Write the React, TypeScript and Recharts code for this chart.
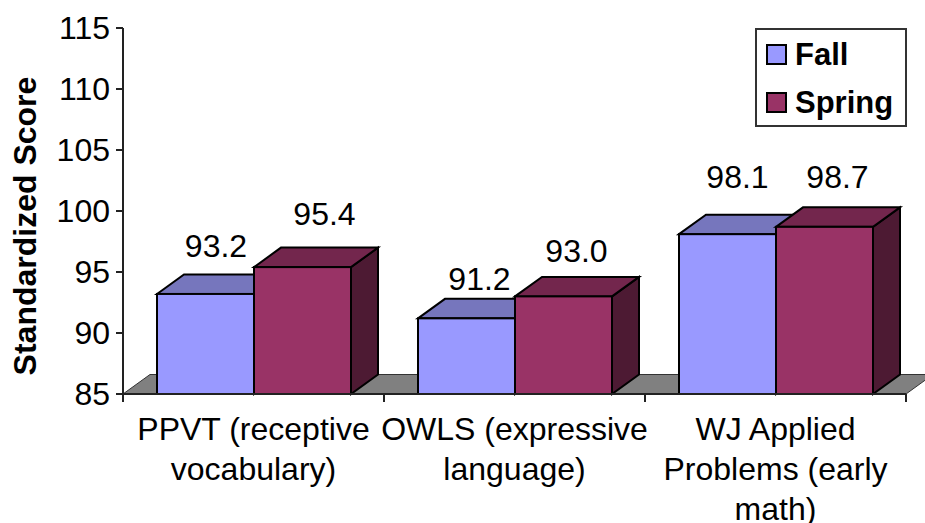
import { BarChart, Bar, XAxis, YAxis, LabelList, Legend, ReferenceArea, Label } from "recharts"

const categories = ["PPVT (receptive vocabulary)", "OWLS (expressive language)", "WJ Applied Problems (early math)"]
const fallValues = [93.2, 91.2, 98.1]
const springValues = [95.4, 93.0, 98.7]
const yTicks = [85, 90, 95, 100, 105, 110, 115]
const tickLines: Record<string, string[]> = {
  "PPVT (receptive vocabulary)": ["PPVT (receptive", "vocabulary)"],
  "OWLS (expressive language)": ["OWLS (expressive", "language)"],
  "WJ Applied Problems (early math)": ["WJ Applied", "Problems (early", "math)"],
}

const chartData = categories.map((name, i) => ({ name, fall: fallValues[i], spring: springValues[i] }))

const FONT = "'Liberation Sans', Arial, sans-serif"
const BAND = 261
const DX = 27
const DY = 19.5

// label placement is hand tuned, the source chart doesn't centre them
const fallNudge = [[10.5, -37], [13, -28], [10, -46]]
const springNudge = [[22, -42], [13, -34], [13, -39]]

function Box({ x, y, width, height, fill, topFill, sideFill }: any) {
  const l = Math.round(x)
  const r = l + width
  const b = y + height
  return (
    <g stroke="#000" strokeWidth={2} strokeLinejoin="miter">
      <path d={`M${r} ${y}L${r + DX} ${y - DY}V${b - DY}L${r} ${b}Z`} fill={sideFill} />
      <path d={`M${l} ${y}L${l + DX} ${y - DY}H${r + DX}L${r} ${y}Z`} fill={topFill} />
      <rect x={l} y={y} width={width} height={height} fill={fill} />
    </g>
  )
}

function Floor({ x, y, width, height }: any) {
  const b = y + height
  return (
    <path
      d={`M${x} ${b}L${x + DX} ${b - DY}H${x + width + DX}L${x + width} ${b}Z`}
      fill="#808080"
      stroke="#333"
      strokeWidth={1}
    />
  )
}

function CategoryTick({ x, y, payload }: any) {
  const lines = tickLines[payload.value] || [payload.value]
  return (
    <g>
      <line x1={x - BAND / 2} x2={x - BAND / 2} y1={394} y2={402} stroke="#222" strokeWidth={2} />
      <line x1={x + BAND / 2} x2={x + BAND / 2} y1={394} y2={402} stroke="#222" strokeWidth={2} />
      {lines.map((line: string, i: number) => (
        <text key={line} x={x} y={440 + i * 40} textAnchor="middle" fontFamily={FONT} fontSize={32} fill="#000">
          {line}
        </text>
      ))}
    </g>
  )
}

function valueLabel(nudge: number[][]) {
  return ({ x, y, width, value, index }: any) => (
    <text
      x={x + width / 2 + nudge[index][0]}
      y={y + nudge[index][1]}
      textAnchor="middle"
      fontFamily={FONT}
      fontSize={32}
      fill="#000"
    >
      {Number(value).toFixed(1)}
    </text>
  )
}

function AxisTitle() {
  return (
    <text
      transform="translate(36 226) rotate(-90)"
      textAnchor="middle"
      fontFamily={FONT}
      fontSize={32}
      fontWeight={700}
      fill="#000"
    >
      Standardized Score
    </text>
  )
}

function LegendBox() {
  const items = [
    { label: "Fall", color: "#9999FF" },
    { label: "Spring", color: "#993366" },
  ]
  return (
    <div style={{ width: 148, height: 95, border: "2px solid #333", background: "#fff", position: "relative" }}>
      {items.map((item, i) => (
        <div key={item.label}>
          <div
            style={{
              position: "absolute",
              left: 9,
              top: 14 + i * 48,
              width: 21,
              height: 21,
              background: item.color,
              border: "2px solid #000",
              boxSizing: "border-box",
            }}
          />
          <div
            style={{
              position: "absolute",
              left: 38,
              top: 7 + i * 48,
              fontFamily: FONT,
              fontWeight: 700,
              fontSize: 31,
              lineHeight: "36px",
              color: "#000",
            }}
          >
            {item.label}
          </div>
        </div>
      ))}
    </div>
  )
}

export default function App() {
  return (
    <div style={{ position: "absolute", left: 0, top: 0, width: 925, height: 523, overflow: "hidden", background: "#fff" }}>
      <BarChart
        width={925}
        height={523}
        data={chartData}
        margin={{ top: 28, right: 19, bottom: 0, left: 0 }}
        barSize={97}
        barGap={0}
      >
        <ReferenceArea y1={85} y2={86.6} shape={<Floor />} ifOverflow="visible" />
        <XAxis
          dataKey="name"
          height={129}
          interval={0}
          stroke="#222"
          strokeWidth={2}
          tickLine={false}
          tick={<CategoryTick />}
        />
        <YAxis
          width={123}
          domain={[85, 115]}
          ticks={yTicks}
          interval={0}
          stroke="#222"
          strokeWidth={2}
          tickSize={7}
          tickMargin={6}
          tick={{ fontFamily: FONT, fontSize: 32, fill: "#000" }}
        >
          <Label content={<AxisTitle />} />
        </YAxis>
        <Legend
          layout="horizontal"
          align="center"
          verticalAlign="middle"
          content={<LegendBox />}
          wrapperStyle={{ left: 755, top: 28, width: 152, height: 99 }}
        />
        <Bar
          dataKey="fall"
          name="Fall"
          isAnimationActive={false}
          shape={<Box fill="#9999FF" topFill="#7676BD" sideFill="#4D4D80" />}
        >
          <LabelList dataKey="fall" content={valueLabel(fallNudge)} />
        </Bar>
        <Bar
          dataKey="spring"
          name="Spring"
          isAnimationActive={false}
          shape={<Box fill="#993366" topFill="#73264D" sideFill="#4D1A33" />}
        >
          <LabelList dataKey="spring" content={valueLabel(springNudge)} />
        </Bar>
      </BarChart>
    </div>
  )
}
